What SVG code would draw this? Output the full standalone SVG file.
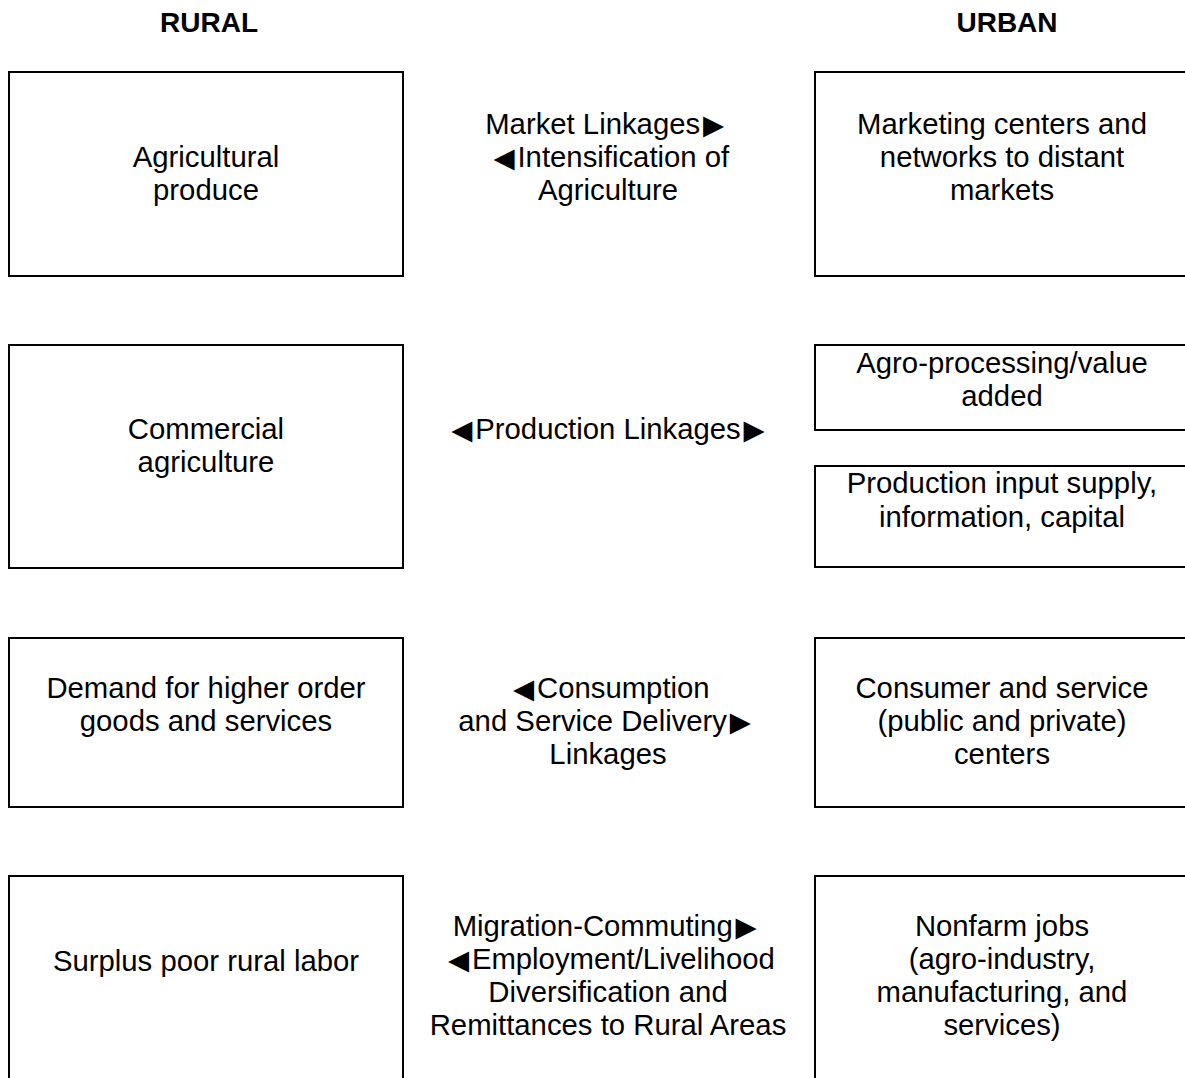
<svg xmlns="http://www.w3.org/2000/svg" width="1185" height="1078" viewBox="0 0 1185 1078">
<style>
.box{fill:#fff;stroke:#000;stroke-width:2}
text{font-family:"Liberation Sans",Arial,sans-serif;font-size:29.3px;fill:#000;text-anchor:middle}
.hd{font-weight:bold;font-size:28px}
.tri{font-size:35px}
</style>
<rect x="0" y="0" width="1185" height="1078" fill="#fff"/>
<g id="headers">
<text class="hd" x="209" y="32">RURAL</text>
<text class="hd" x="1007" y="32">URBAN</text>
</g>
<g id="node-agri-produce">
<rect class="box" x="9" y="72" width="394" height="204"/>
<text x="206" y="167">Agricultural</text>
<text x="206" y="200">produce</text>
</g>
<g id="node-marketing-centers">
<rect class="box" x="815" y="72" width="390" height="204"/>
<text x="1002" y="134">Marketing centers and</text>
<text x="1002" y="167">networks to distant</text>
<text x="1002" y="200">markets</text>
</g>
<g id="node-commercial-agri">
<rect class="box" x="9" y="345" width="394" height="223"/>
<text x="206" y="439">Commercial</text>
<text x="206" y="472">agriculture</text>
</g>
<g id="node-agro-processing">
<rect class="box" x="815" y="345" width="390" height="85"/>
<text x="1002" y="373">Agro-processing/value</text>
<text x="1002" y="406">added</text>
</g>
<g id="node-input-supply">
<rect class="box" x="815" y="466" width="390" height="101"/>
<text x="1002" y="493">Production input supply,</text>
<text x="1002" y="527">information, capital</text>
</g>
<g id="node-demand">
<rect class="box" x="9" y="638" width="394" height="169"/>
<text x="206" y="698">Demand for higher order</text>
<text x="206" y="731">goods and services</text>
</g>
<g id="node-consumer-centers">
<rect class="box" x="815" y="638" width="390" height="169"/>
<text x="1002" y="698">Consumer and service</text>
<text x="1002" y="731">(public and private)</text>
<text x="1002" y="764">centers</text>
</g>
<g id="node-surplus-labor">
<rect class="box" x="9" y="876" width="394" height="230"/>
<text x="206" y="971">Surplus poor rural labor</text>
</g>
<g id="node-nonfarm-jobs">
<rect class="box" x="815" y="876" width="390" height="230"/>
<text x="1002" y="936">Nonfarm jobs</text>
<text x="1002" y="969">(agro-industry,</text>
<text x="1002" y="1002">manufacturing, and</text>
<text x="1002" y="1035">services)</text>
</g>
<g id="connectors">
<g id="link-market">
<text x="608" y="134">Market Linkages<tspan class="tri" dx="-4" dy="2.5">►</tspan></text>
<text x="608" y="167"><tspan class="tri" dy="2.5">◄</tspan><tspan dx="-4" dy="-2.5">Intensification of</tspan></text>
<text x="608" y="200">Agriculture</text>
</g>
<g id="link-production">
<text x="608" y="439"><tspan class="tri" dy="2.5">◄</tspan><tspan dx="-4" dy="-2.5">Production Linkages</tspan><tspan class="tri" dx="-4" dy="2.5">►</tspan></text>
</g>
<g id="link-consumption">
<text x="608" y="698"><tspan class="tri" dy="2.5">◄</tspan><tspan dx="-4" dy="-2.5">Consumption</tspan></text>
<text x="608" y="731">and Service Delivery<tspan class="tri" dx="-4" dy="2.5">►</tspan></text>
<text x="608" y="764">Linkages</text>
</g>
<g id="link-migration">
<text x="608" y="936">Migration-Commuting<tspan class="tri" dx="-4" dy="2.5">►</tspan></text>
<text x="608" y="969"><tspan class="tri" dy="2.5">◄</tspan><tspan dx="-4" dy="-2.5">Employment/Livelihood</tspan></text>
<text x="608" y="1002">Diversification and</text>
<text x="608" y="1035">Remittances to Rural Areas</text>
</g>
</g>
</svg>
